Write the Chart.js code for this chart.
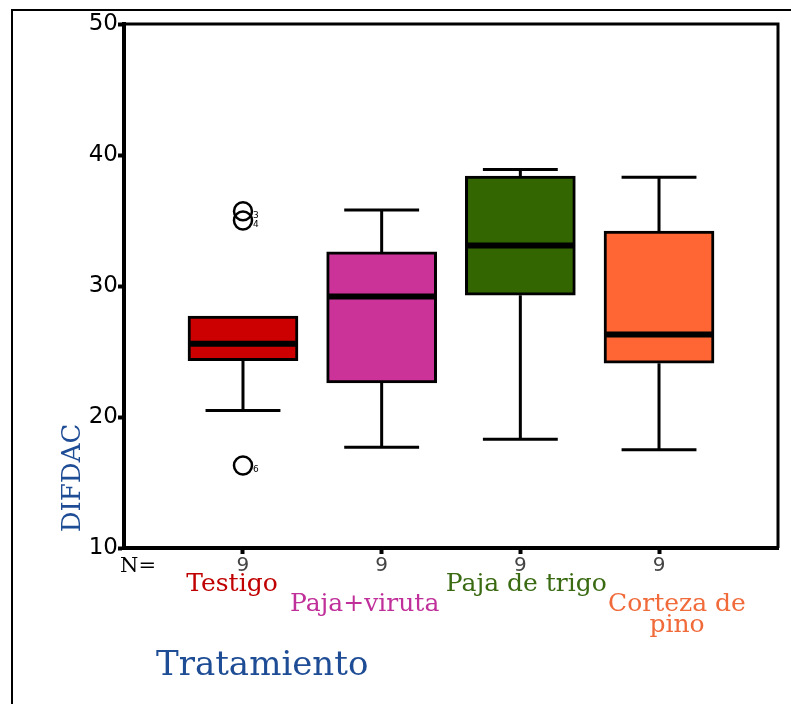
<!DOCTYPE html>
<html><head><meta charset="utf-8">
<script src="https://cdn.jsdelivr.net/npm/chart.js@4/dist/chart.umd.min.js"></script>
<style>html,body{margin:0;padding:0;background:#fff}#wrap{width:791px;height:704px;position:relative}</style>
</head><body><div id="wrap"><canvas id="c" width="791" height="704"></canvas></div>
<script>
// ---- data ----
const categories = ['Testigo', 'Paja+viruta', 'Paja de trigo', 'Corteza de pino'];
const categoryLines = [['Testigo'], ['Paja+viruta'], ['Paja de trigo'], ['Corteza de', 'pino']];
const nCounts = ['9', '9', '9', '9'];
const whiskerLow = [20.5, 17.7, 18.3, 17.5];
const q1 = [24.3, 22.6, 29.3, 24.1];
const median = [25.6, 29.2, 33.1, 26.3];
const q3 = [27.7, 32.6, 38.4, 34.2];
const whiskerHigh = [27.7, 35.8, 38.9, 38.3];
const outlierCategory = [0, 0, 0];
const outlierValue = [35.7, 35.0, 16.3];
const outlierId = ['3', '4', '6'];
const yTicks = [10, 20, 30, 40, 50];
const yTitle = 'DIFDAC';
const xTitle = 'Tratamiento';
const nLabel = 'N=';

// ---- styles ----
const boxColors = ['#CC0000', '#CC3399', '#336600', '#FF6633'];
const labelColors = ['#C00000', '#C0309A', '#3A6A12', '#F06A3A'];
const titleColor = '#1E4C95';

// ---- derived datasets ----
const CAP = 0.27, HALF = 0.385;
const whiskerPts = [];
categories.forEach((c, i) => {
  if (whiskerHigh[i] > q3[i]) {
    whiskerPts.push({x: i, y: q3[i]}, {x: i, y: whiskerHigh[i]}, {x: i, y: null});
    whiskerPts.push({x: i - CAP, y: whiskerHigh[i]}, {x: i + CAP, y: whiskerHigh[i]}, {x: i, y: null});
  }
  if (whiskerLow[i] < q1[i]) {
    whiskerPts.push({x: i, y: q1[i]}, {x: i, y: whiskerLow[i]}, {x: i, y: null});
    whiskerPts.push({x: i - CAP, y: whiskerLow[i]}, {x: i + CAP, y: whiskerLow[i]}, {x: i, y: null});
  }
});
const medianPts = [];
categories.forEach((c, i) => {
  medianPts.push({x: i - HALF, y: median[i]}, {x: i + HALF, y: median[i]}, {x: i, y: null});
});
const boxPts = categories.map((c, i) => ({x: i, y: [q1[i], q3[i]]}));
const outlierPts = outlierValue.map((v, k) => ({x: outlierCategory[k], y: v}));

const decor = {
  id: 'decor',
  beforeDraw(chart) {
    const ctx = chart.ctx;
    ctx.save();
    ctx.fillStyle = '#fff';
    ctx.fillRect(0, 0, chart.width, chart.height);
    ctx.restore();
  },
  afterDraw(chart) {
    const ctx = chart.ctx;
    const {left, right, top, bottom} = chart.chartArea;
    const xs = chart.scales.x, ys = chart.scales.y;
    ctx.save();
    // outer frame
    ctx.strokeStyle = '#000';
    ctx.lineWidth = 2;
    ctx.beginPath();
    ctx.moveTo(12, chart.height); ctx.lineTo(12, 10); ctx.lineTo(chart.width, 10);
    ctx.stroke();
    // plot frame top & right
    ctx.lineWidth = 3;
    ctx.beginPath();
    ctx.moveTo(left, top); ctx.lineTo(right, top); ctx.lineTo(right, bottom);
    ctx.stroke();
    // outlier ids
    ctx.fillStyle = '#000';
    ctx.font = '9px "DejaVu Sans"';
    ctx.textAlign = 'left';
    ctx.textBaseline = 'middle';
    outlierValue.forEach((v, k) => {
      ctx.fillText(outlierId[k], xs.getPixelForValue(outlierCategory[k]) + 10, ys.getPixelForValue(v) + 4);
    });
    // N=
    ctx.textBaseline = 'alphabetic';
    ctx.font = '21px "DejaVu Serif"';
    ctx.fillText(nLabel, left - 4, bottom + 24);
    // category labels
    const offs = [-11, -17, 6, 18];
    const rows = [0, 1, 0, 1];
    ctx.font = '25px "DejaVu Serif"';
    ctx.textAlign = 'center';
    categoryLines.forEach((lines, i) => {
      ctx.fillStyle = labelColors[i];
      const cx = xs.getPixelForValue(i) + offs[i];
      lines.forEach((t, j) => {
        ctx.fillText(t, cx, bottom + 43 + rows[i] * 20 + j * 21);
      });
    });
    // x title
    ctx.fillStyle = titleColor;
    ctx.textAlign = 'left';
    ctx.font = '34px "DejaVu Serif"';
    ctx.fillText(xTitle, 156, 675);
    // y title
    ctx.translate(80, 478);
    ctx.rotate(-Math.PI / 2);
    ctx.textAlign = 'center';
    ctx.font = '26px "DejaVu Serif"';
    ctx.fillText(yTitle, 0, 0);
    ctx.restore();
  }
};

new Chart(document.getElementById('c'), {
  type: 'bar',
  data: {
    datasets: [
      {type: 'line', data: whiskerPts, borderColor: '#000', borderWidth: 3, pointRadius: 0, spanGaps: false, fill: false, tension: 0, order: 4},
      {type: 'bar', data: boxPts, backgroundColor: boxColors, borderColor: '#000', borderWidth: 3, borderSkipped: false, barThickness: 110, order: 3},
      {type: 'line', data: medianPts, borderColor: '#000', borderWidth: 6, borderCapStyle: 'butt', pointRadius: 0, spanGaps: false, fill: false, tension: 0, order: 2},
      {type: 'scatter', data: outlierPts, pointStyle: 'circle', pointRadius: 9, pointBorderWidth: 2.5, borderColor: '#000', backgroundColor: 'rgba(0,0,0,0)', order: 1}
    ]
  },
  options: {
    responsive: false,
    animation: false,
    events: [],
    layout: {padding: {left: 0, right: 13, top: 24, bottom: 0}},
    plugins: {legend: {display: false}, tooltip: {enabled: false}},
    scales: {
      x: {
        type: 'linear', offset: false, min: -0.858, max: 3.858,
        afterBuildTicks: s => { s.ticks = categories.map((c, i) => ({value: i})); },
        afterFit: s => { s.height = 156; },
        ticks: {autoSkip: false, maxRotation: 0, padding: 0, color: '#444',
          font: {family: 'DejaVu Sans', size: 20},
          callback: (v, idx) => nCounts[idx]},
        grid: {display: true, offset: false, drawOnChartArea: false, drawTicks: true, tickLength: 6, tickWidth: 4, color: '#000'},
        border: {display: true, width: 4, color: '#000'}
      },
      y: {
        type: 'linear', min: 10, max: 50,
        afterBuildTicks: s => { s.ticks = yTicks.map(v => ({value: v})); },
        afterFit: s => { s.width = 124; },
        ticks: {padding: 0, color: '#000', font: {family: 'DejaVu Sans', size: 23}},
        grid: {display: true, offset: false, drawOnChartArea: false, drawTicks: true, tickLength: 6, tickWidth: 4, color: '#000'},
        border: {display: true, width: 4, color: '#000'}
      }
    }
  },
  plugins: [decor]
});
</script>
</body></html>
